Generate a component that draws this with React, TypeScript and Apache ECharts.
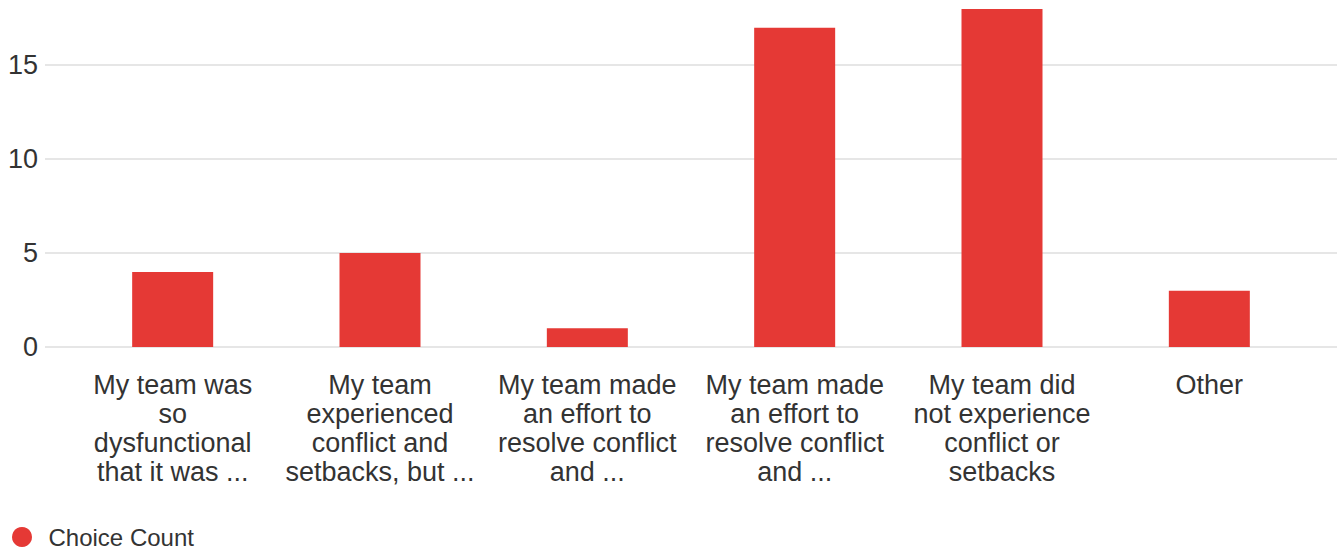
import React, { useEffect, useRef } from "react";
import * as echarts from "echarts";

const categories: string[] = [
  "My team was\nso\ndysfunctional\nthat it was ...",
  "My team\nexperienced\nconflict and\nsetbacks, but ...",
  "My team made\nan effort to\nresolve conflict\nand ...",
  "My team made\nan effort to\nresolve conflict\nand ...",
  "My team did\nnot experience\nconflict or\nsetbacks",
  "Other",
];
const choiceCounts: number[] = [4, 5, 1, 17, 18, 3];
const yTicks: number[] = [0, 5, 10, 15];
const seriesName = "Choice Count";

export default function App() {
  const ref = useRef<HTMLDivElement>(null);
  useEffect(() => {
    if (!ref.current) return;
    const chart = echarts.init(ref.current, null, { renderer: "svg" });
    const font = "'Liberation Sans', Arial, sans-serif";
    chart.setOption({
      animation: false,
      textStyle: { fontFamily: font },
      legend: {
        data: [{ name: seriesName, icon: "circle" }],
        left: 7,
        top: 520,
        itemWidth: 43,
        itemHeight: 20,
        textStyle: { fontSize: 24, color: "#333", fontFamily: font },
      },
      grid: [
        { left: 45, right: 3, top: 65, bottom: 205, containLabel: false },
        { left: 69, right: 27, top: 9, bottom: 205, containLabel: false },
      ],
      xAxis: [
        { type: "category", gridIndex: 0, show: false, data: categories },
        {
          type: "category",
          gridIndex: 1,
          data: categories,
          axisLine: { show: false },
          axisTick: { show: false },
          axisLabel: {
            fontSize: 27,
            lineHeight: 29,
            color: "#333",
            margin: 23,
            interval: 0,
            fontFamily: font,
          },
        },
      ],
      yAxis: [
        {
          type: "value",
          gridIndex: 0,
          min: yTicks[0],
          max: yTicks[yTicks.length - 1],
          interval: 5,
          axisLine: { show: false },
          axisTick: { show: false },
          axisLabel: { fontSize: 27, color: "#333", margin: 7, fontFamily: font },
          splitLine: { lineStyle: { color: "#e6e6e6", width: 2 } },
        },
        {
          type: "value",
          gridIndex: 1,
          min: 0,
          max: 18,
          show: false,
          splitLine: { show: false },
        },
      ],
      series: [
        {
          name: seriesName,
          type: "bar",
          xAxisIndex: 1,
          yAxisIndex: 1,
          data: choiceCounts,
          barWidth: 81,
          itemStyle: { color: "#e53935" },
        },
      ],
    });
    return () => chart.dispose();
  }, []);
  return (
    <div
      ref={ref}
      style={{ position: "fixed", left: 0, top: 0, width: 1340, height: 552, background: "#fff" }}
    />
  );
}
